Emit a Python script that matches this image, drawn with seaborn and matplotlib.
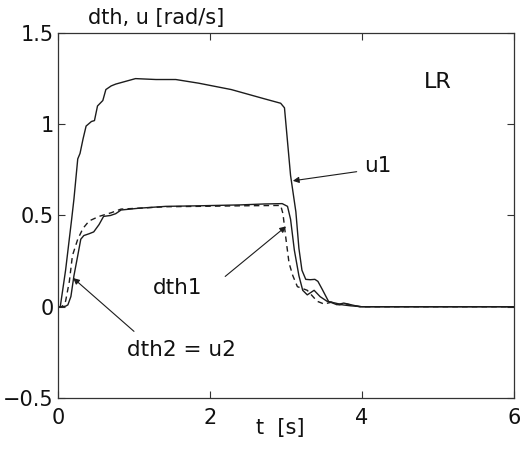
import matplotlib
matplotlib.use("Agg")
import matplotlib.pyplot as plt
import seaborn as sns

# Time axis [s] and angular rates [rad/s]
t_u1 = [0.00, 0.03, 0.10, 0.18, 0.21, 0.26, 0.29, 0.33, 0.37, 0.44, 0.48, 0.52,
        0.59, 0.63, 0.70, 0.76, 0.89, 1.02, 1.29, 1.55, 1.85, 2.28, 2.71, 2.93,
        2.98, 3.06, 3.13, 3.17, 3.21, 3.26, 3.32, 3.38, 3.42, 3.48, 3.56, 3.67,
        3.76, 3.97, 6.00]
u1 = [0.00, 0.00, 0.20, 0.48, 0.59, 0.81, 0.84, 0.92, 0.99, 1.015, 1.02, 1.10,
      1.13, 1.19, 1.21, 1.22, 1.235, 1.25, 1.245, 1.245, 1.225, 1.19, 1.14, 1.115,
      1.09, 0.72, 0.52, 0.32, 0.20, 0.15, 0.148, 0.15, 0.139, 0.093, 0.029, 0.011,
      0.02, 0.00, 0.00]

t_dth2 = [0.00, 0.05, 0.10, 0.13, 0.17, 0.21, 0.26, 0.30, 0.34, 0.41, 0.47, 0.54,
          0.60, 0.69, 0.76, 0.83, 1.07, 1.42, 1.85, 2.40, 2.71, 2.95, 3.02, 3.06,
          3.11, 3.17, 3.22, 3.28, 3.37, 3.45, 3.54, 3.65, 3.75, 3.85, 4.00, 6.00]
dth2 = [0.00, 0.00, 0.003, 0.01, 0.056, 0.17, 0.28, 0.37, 0.39, 0.40, 0.41, 0.45,
        0.495, 0.50, 0.51, 0.53, 0.54, 0.55, 0.553, 0.558, 0.563, 0.565, 0.55, 0.48,
        0.31, 0.17, 0.09, 0.065, 0.09, 0.055, 0.03, 0.02, 0.01, 0.005, 0.00, 0.00]

t_dth1 = [0.00, 0.05, 0.10, 0.15, 0.19, 0.26, 0.33, 0.41, 0.54, 0.70, 0.83, 1.07,
          1.42, 1.85, 2.40, 2.93, 2.96, 3.00, 3.04, 3.09, 3.15, 3.28, 3.41, 3.50,
          3.60, 3.70, 3.80, 3.90, 4.00, 6.00]
dth1 = [0.00, 0.00, 0.03, 0.14, 0.28, 0.37, 0.43, 0.47, 0.495, 0.515, 0.535, 0.54,
        0.548, 0.55, 0.553, 0.555, 0.51, 0.37, 0.24, 0.17, 0.11, 0.09, 0.03, 0.015,
        0.025, 0.01, 0.015, 0.005, 0.00, 0.00]

x_ticks = [0, 2, 4, 6]
y_ticks = [-0.5, 0, 0.5, 1, 1.5]
y_tick_labels = ["\u22120.5", "0", "0.5", "1", "1.5"]

sns.set_theme(style="ticks")
plt.rcParams["font.family"] = ["DejaVu Sans"]
plt.rcParams.update({
    "xtick.direction": "in", "ytick.direction": "in",
    "xtick.top": True, "ytick.right": True,
    "xtick.major.size": 5, "ytick.major.size": 5,
    "xtick.major.width": 0.8, "ytick.major.width": 0.8,
    "xtick.color": "#333333", "ytick.color": "#333333",
    "xtick.labelcolor": "#111111", "ytick.labelcolor": "#111111",
    "axes.edgecolor": "#333333", "axes.linewidth": 0.9,
})

fig = plt.figure(figsize=(5.3, 4.5), dpi=100)
ax = fig.add_axes([0.1094, 0.1156, 0.8604, 0.8111])

ink = "#1c1c1c"
sns.lineplot(x=t_u1, y=u1, ax=ax, color=ink, lw=1.0, estimator=None, sort=False)
sns.lineplot(x=t_dth2, y=dth2, ax=ax, color=ink, lw=1.0, estimator=None, sort=False)
sns.lineplot(x=t_dth1, y=dth1, ax=ax, color=ink, lw=1.0, estimator=None, sort=False,
             linestyle=(0, (4, 3)))

ax.set_xlim(0, 6)
ax.set_ylim(-0.5, 1.5)
ax.set_xticks(x_ticks)
ax.set_xticklabels([str(v) for v in x_ticks])
ax.set_yticks(y_ticks)
ax.set_yticklabels(y_tick_labels)
ax.tick_params(axis="x", labelsize=15, pad=7)
ax.tick_params(axis="y", labelsize=15, pad=3)
for s in ax.spines.values():
    s.set_visible(True)

ax.text(0.215, 1.042, "dth, u [rad/s]", transform=ax.transAxes,
        ha="center", va="center", fontsize=15, color="#111111")
ax.text(0.488, -0.082, "t  [s]", transform=ax.transAxes,
        ha="center", va="center", fontsize=15, color="#111111")

ax.text(5.0, 1.23, "LR", ha="center", va="center", fontsize=16, color="#111111")

arrow = dict(arrowstyle="-|>", color=ink, lw=0.8, mutation_scale=9, shrinkA=0, shrinkB=0)
ax.annotate("", xy=(3.09, 0.69), xytext=(3.93, 0.74), arrowprops=arrow)
ax.text(4.21, 0.77, "u1", ha="center", va="center", fontsize=15.5, color="#111111")

ax.annotate("", xy=(3.00, 0.44), xytext=(2.20, 0.166), arrowprops=arrow)
ax.text(1.57, 0.10, "dth1", ha="center", va="center", fontsize=15.5, color="#111111")

ax.annotate("", xy=(0.20, 0.157), xytext=(1.00, -0.135), arrowprops=arrow)
ax.text(1.63, -0.235, "dth2 = u2", ha="center", va="center", fontsize=15.5,
        color="#111111")

fig.savefig("out.png", dpi=100)
